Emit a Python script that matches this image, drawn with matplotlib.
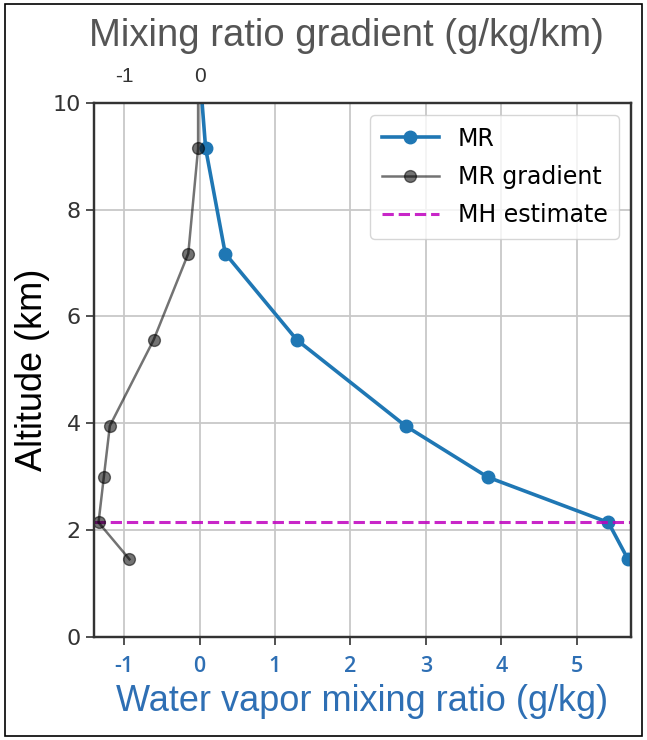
import matplotlib
matplotlib.use("Agg")
import matplotlib.pyplot as plt
from matplotlib.patches import Rectangle

plt.rcParams["axes.unicode_minus"] = False

# altitude levels (km) and profiles
altitude = [10.6, 9.15, 7.18, 5.56, 3.95, 2.99, 2.14, 1.45]
mixing_ratio = [0.0, 0.08, 0.34, 1.29, 2.73, 3.82, 5.42, 5.68]
mr_gradient = [-0.02, -0.02, -0.15, -0.61, -1.19, -1.27, -1.34, -0.93]
mh_estimate = 2.15

x_ticks = [-1, 0, 1, 2, 3, 4, 5]
top_ticks = [-1, 0]
y_ticks = [0, 2, 4, 6, 8, 10]

BLUE = "#2e6fb4"

fig = plt.figure(figsize=(6.47, 7.40), dpi=100)
ax = fig.add_axes([0.1453, 0.1396, 0.830, 0.7212])
ax2 = ax.twiny()

l1, = ax.plot(mixing_ratio, altitude, "o-", color="#1f77b4", lw=2.6, ms=9, label="MR")
l2, = ax2.plot(mr_gradient, altitude, "o-", color="k", alpha=0.55, lw=1.8, ms=8.5, label="MR gradient")
l3 = ax.axhline(mh_estimate, color="m", ls="--", lw=2.2, alpha=0.85, label="MH estimate")

xlim = (-1.40, 5.72)
ax.set_xlim(xlim)
ax2.set_xlim(xlim)
ax.set_ylim(0, 10)

ax.set_xticks(x_ticks)
ax.set_yticks(y_ticks)
ax.grid(True, color="#c8c8c8", lw=1.3)
ax.set_axisbelow(True)

for s in list(ax.spines.values()) + list(ax2.spines.values()):
    s.set_color("#333333")
    s.set_linewidth(1.6)

ax.tick_params(axis="y", labelsize=16, length=6, width=1.2, color="#333333", labelcolor="#333333")
ax.tick_params(axis="x", length=6, width=1.2, color="#333333", pad=8)
for lab in ax.get_xticklabels():
    lab.set_fontfamily(["Open Sans", "DejaVu Sans"])
    lab.set_fontweight("semibold")
    lab.set_fontsize(15.5)
    lab.set_color(BLUE)

ax2.set_xticks(top_ticks)
ax2.tick_params(axis="x", length=0, pad=12, labelsize=15, labelcolor="#333333")
for lab in ax2.get_xticklabels():
    lab.set_fontfamily(["Liberation Sans", "DejaVu Sans"])

ax.set_ylabel("Altitude (km)", fontsize=26, family=["Liberation Sans", "DejaVu Sans"], labelpad=2)
ax.set_xlabel("Water vapor mixing ratio (g/kg)", fontsize=26, color=BLUE,
              family=["Liberation Sans", "DejaVu Sans"], labelpad=5)

fig.text(0.535, 0.952, "Mixing ratio gradient (g/kg/km)", fontsize=27.5, color="#555555",
         ha="center", va="center", family=["Liberation Sans Narrow", "Liberation Sans", "DejaVu Sans"])

ax2.legend([l1, l2, l3], ["MR", "MR gradient", "MH estimate"], loc="upper right", fontsize=17,
           labelspacing=0.6, handlelength=2.4, borderpad=0.5)

# thin border around the whole picture
fig.patches.append(Rectangle((0.008, 0.006), 0.984, 0.988, transform=fig.transFigure,
                             fill=False, ec="black", lw=1.2))

fig.savefig("out.png", dpi=100)
